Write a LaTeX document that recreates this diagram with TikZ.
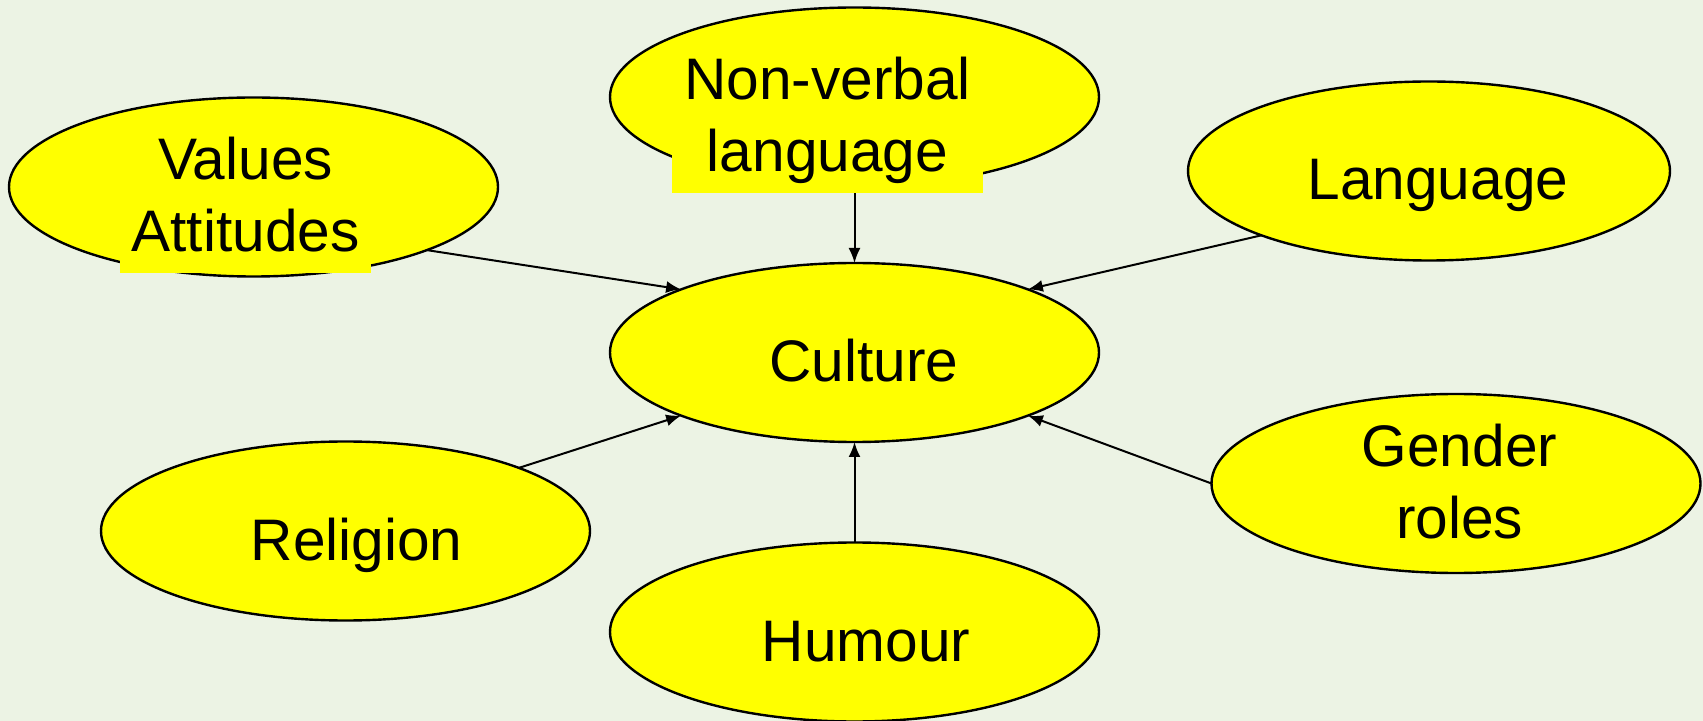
\documentclass[tikz,border=0pt]{standalone}
\usepackage{fontspec}
\setmainfont{Liberation Sans}
\usetikzlibrary{shapes.geometric,arrows.meta}
\definecolor{bgcol}{RGB}{236,243,228}
\definecolor{bubblefill}{RGB}{255,255,0}
\tikzset{
  bubble/.style={ellipse, draw=black, line width=1.2pt, fill=bubblefill,
    inner sep=0pt, outer sep=0pt, minimum width=244.5pt, minimum height=89.5pt},
  txtbox/.style={rectangle, fill=bubblefill, draw=none, inner sep=0pt, outer sep=0pt},
  lbl/.style={anchor=base, inner sep=0pt, font=\fontsize{29.3}{35.8}\selectfont},
  conn/.style={line width=1pt, -{Latex[length=7.5pt,width=6pt]}}
}
\newcommand{\twolines}[2]{\setlength{\tabcolsep}{0pt}\renewcommand{\arraystretch}{1}\begin{tabular}[t]{c}#1\\#2\end{tabular}}
\begin{document}
\begin{tikzpicture}[x=0.5pt,y=-0.5pt]
\fill[bgcol] (0,0) rectangle (1703,721);
\useasboundingbox (0,0) rectangle (1703,721);

% ellipses
\node[bubble] (values)    at (253.5,187) {};
\node[bubble] (nonverbal) at (854.5,97)  {};
\node[bubble, minimum width=241pt] (language) at (1429,171) {};
\node[bubble] (culture)   at (854.5,352.5) {};
\node[bubble] (religion)  at (345.5,531) {};
\node[bubble] (humour)    at (854.5,632) {};
\node[bubble] (gender)    at (1456,483.5) {};

% connectors
\draw[conn] (values.-20)   -- (culture.160);
\draw[conn] (nonverbal.south) -- (culture.north);
\draw[conn] (language.-159) -- (culture.20);
\draw[conn] (religion.20)  -- (culture.200);
\draw[conn] (humour.north) -- (culture.south);
\draw[conn] (gender.west)  -- (culture.-20);

% text boxes
\node[txtbox, minimum width=125.5pt, minimum height=77.5pt] (valuesbox) at (245.5,195.5) {};
\node[txtbox, minimum width=155.5pt, minimum height=74pt] (nvbox) at (827.5,119) {};

% labels
\node[lbl] (tvalues)   at (245.5,180)   {\twolines{Values}{Attitudes}};
\node[lbl] (tnonverbal) at (827.5,100)  {\twolines{Non-verbal}{language}};
\node[lbl] (tlanguage) at (1438,200)    {Language};
\node[lbl] (tculture)  at (864,381.7)   {Culture};
\node[lbl] (treligion) at (356.7,560)   {Religion};
\node[lbl] (thumour)   at (866,661.7)   {Humour};
\node[lbl] (tgender)   at (1459.5,466.7) {\twolines{Gender}{roles}};
\end{tikzpicture}
\end{document}
